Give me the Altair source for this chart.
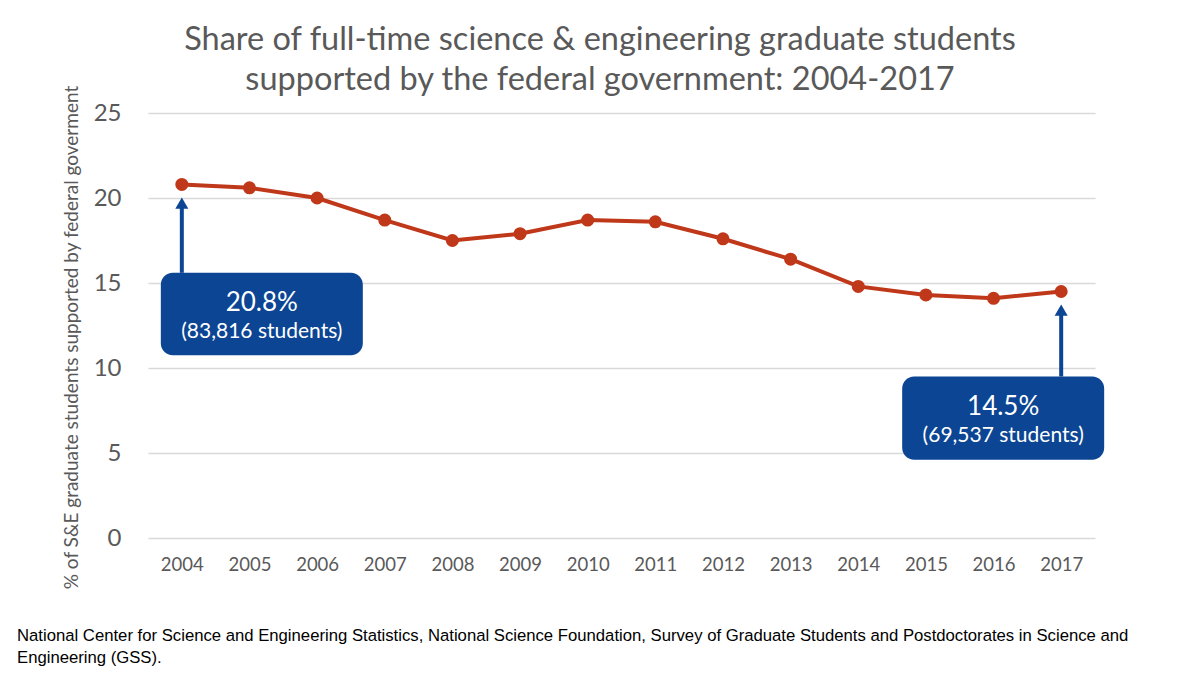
import altair as alt
import pandas as pd

years = ["2004", "2005", "2006", "2007", "2008", "2009", "2010",
         "2011", "2012", "2013", "2014", "2015", "2016", "2017"]
shares = [20.8, 20.6, 20.0, 18.7, 17.5, 17.9, 18.7,
          18.6, 17.6, 16.4, 14.8, 14.3, 14.1, 14.5]

title_lines = ["Share of full-time science & engineering graduate students",
               "supported by the federal government: 2004-2017"]
y_title = "% of S&E graduate students supported by federal goverment"
note_lines = ["National Center for Science and Engineering Statistics, National Science Foundation, Survey of Graduate Students and Postdoctorates in Science and",
              "Engineering (GSS)."]

# callouts
call_year = ["2004", "2017"]
call_val = ["20.8%", "14.5%"]
call_sub = ["(83,816 students)", "(69,537 students)"]
box_top = [15.6, 9.5]
box_bot = [10.75, 4.6]
arrow_tip = [19.7, 13.4]

FONT = "Lato"
GREY = "#595959"
RED = "#C0381A"
BLUE = "#0B4594"

df = pd.DataFrame({"year": years, "share": shares})
cdf = pd.DataFrame({"year": call_year, "val": call_val, "sub": call_sub,
                    "top": box_top, "bot": box_bot, "tip": arrow_tip,
                    "mid": [(a + b) / 2 for a, b in zip(box_top, box_bot)]})

xenc = alt.X("year:O", title=None,
             scale=alt.Scale(type="point", domain=years, padding=0.5),
             axis=alt.Axis(labelAngle=0, labelFont=FONT, labelFontSize=18.5,
                           labelColor=GREY, domain=False, ticks=False,
                           labelPadding=17, grid=False))
yenc = alt.Y("share:Q", title=y_title,
             scale=alt.Scale(domain=[0, 25], nice=False),
             axis=alt.Axis(values=[0, 5, 10, 15, 20, 25], labelFont=FONT,
                           labelFontSize=24, labelColor=GREY, domain=False,
                           ticks=False, labelPadding=27, gridColor="#D9D9D9",
                           gridWidth=1.5, titleFont=FONT, titleFontSize=19,
                           titleFontWeight="normal", titleColor=GREY,
                           titlePadding=12, titleY=224))

base = alt.Chart(df)
line = base.mark_line(color=RED, strokeWidth=4).encode(x=xenc, y=yenc)
pts = base.mark_circle(color=RED, size=170, opacity=1).encode(x="year:O", y="share:Q")

cb = alt.Chart(cdf)
stem = cb.mark_rule(color=BLUE, strokeWidth=4).encode(
    x="year:O", y="top:Q", y2="tip:Q")
head = cb.mark_point(shape="triangle-up", filled=True, color=BLUE, size=170,
                     opacity=1).encode(x="year:O", y=alt.Y("tip:Q"))

box_l = cb.transform_filter(alt.datum.year == "2004")
box_r = cb.transform_filter(alt.datum.year == "2017")
rect_l = box_l.mark_rect(color=BLUE, cornerRadius=12, xOffset=-21, x2Offset=181).encode(
    x="year:O", x2="year:O", y="top:Q", y2="bot:Q")
rect_r = box_r.mark_rect(color=BLUE, cornerRadius=12, xOffset=-159, x2Offset=43).encode(
    x="year:O", x2="year:O", y="top:Q", y2="bot:Q")
t1l = box_l.mark_text(color="white", font=FONT, fontSize=26, dx=80, dy=-11).encode(
    x="year:O", y="mid:Q", text="val:N")
t2l = box_l.mark_text(color="white", font=FONT, fontSize=21, dx=80, dy=18).encode(
    x="year:O", y="mid:Q", text="sub:N")
t1r = box_r.mark_text(color="white", font=FONT, fontSize=26, dx=-58, dy=-11).encode(
    x="year:O", y="mid:Q", text="val:N")
t2r = box_r.mark_text(color="white", font=FONT, fontSize=21, dx=-58, dy=18).encode(
    x="year:O", y="mid:Q", text="sub:N")

def text_line(s, x, y, **kw):
    return alt.Chart(pd.DataFrame({"t": [s]})).mark_text(**kw).encode(
        x=alt.value(x), y=alt.value(y), text="t:N")

title1 = text_line(title_lines[0], 600 - 148, 40 - 113, align="center",
                   baseline="middle", font=FONT, fontSize=32.5, color=GREY)
title2 = text_line(title_lines[1], 600 - 148, 80 - 113, align="center",
                   baseline="middle", font=FONT, fontSize=32.5, color=GREY)
note1 = text_line(note_lines[0], 17 - 148, 636 - 113, align="left",
                  baseline="middle", font="Liberation Sans", fontSize=16.7,
                  color="#000000")
note2 = text_line(note_lines[1], 17 - 148, 658 - 113, align="left",
                  baseline="middle", font="Liberation Sans", fontSize=16.7,
                  color="#000000")

chart = alt.layer(line, pts, stem, head, rect_l, rect_r, t1l, t2l, t1r, t2r,
                  title1, title2, note1, note2).properties(
    width=947, height=425,
    background="white",
    autosize=alt.AutoSizeParams(type="none"),
    padding={"left": 148, "top": 113, "right": 105, "bottom": 140},
).configure_view(stroke=None)

chart.save("out.html", embed_options={"renderer": "svg", "actions": False})
